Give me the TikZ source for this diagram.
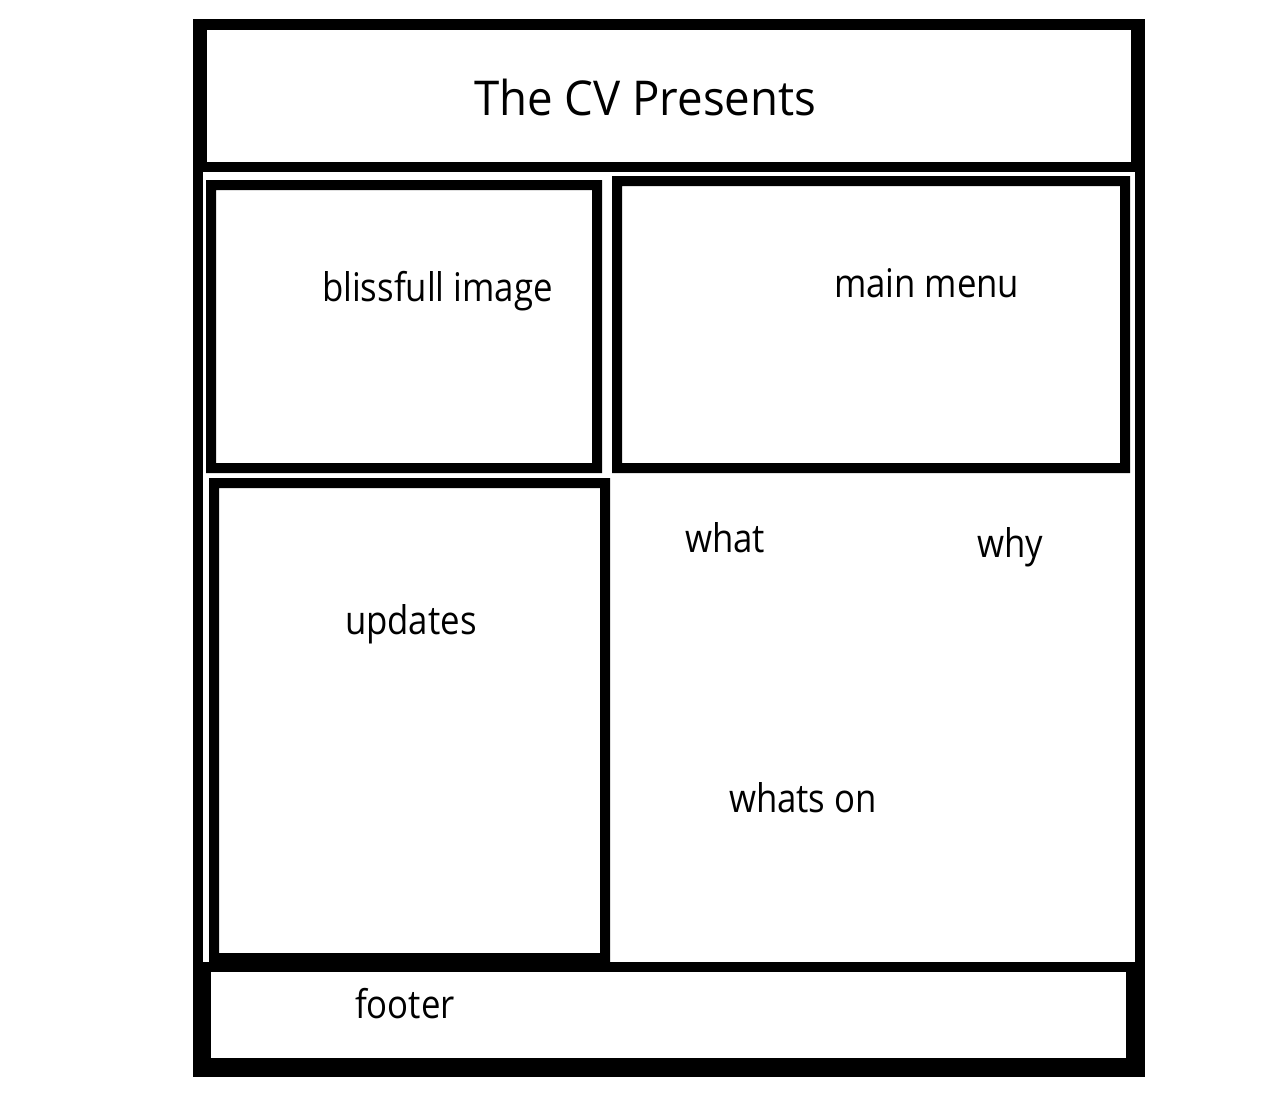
\documentclass[tikz,border=0pt]{standalone}
\usepackage{fontspec}
\setmainfont{Open Sans}[FakeStretch=0.88]
\newfontfamily\titlefont{Open Sans}[FakeStretch=0.95]
\begin{document}
\begin{tikzpicture}[x=1pt,y=-1pt,
  label/.style={anchor=base west,inner sep=0pt,outer sep=0pt,font=\fontsize{39.5}{48}\selectfont},
  titlelabel/.style={anchor=base west,inner sep=0pt,outer sep=0pt,font=\titlefont\fontsize{48}{56}\selectfont}]
\useasboundingbox[fill=white] (0,0) rectangle (1280,1104);

% outer frame, filled black, then the white interiors cut back in
\fill[black] (193,19) rectangle (1145,1077);
\fill[white] (207,30) rectangle (1131,162);   % header
\fill[white] (203,172) rectangle (1135,962);  % body
\fill[white] (211,972) rectangle (1126,1058); % footer

% inner panels
\fill[black,even odd rule] (206,180) rectangle (602,473) (216,190) rectangle (592,463); % image panel
\fill[black,even odd rule] (612,176) rectangle (1130,473) (622,186) rectangle (1120,463); % menu panel
\fill[black,even odd rule] (209,478) rectangle (610,962) (219,488) rectangle (600,953); % updates panel

% labels
\node[titlelabel] (title) at (474,115) {The CV Presents};
\node[label] (image) at (322,301) {blissfull image};
\node[label] (menu) at (834,297) {main menu};
\node[label] (updates) at (345,634) {updates};
\node[label] (what) at (685,552) {what};
\node[label] (why) at (977,557) {why};
\node[label] (whatson) at (729,812) {whats on};
\node[label] (footer) at (355,1018) {footer};
\end{tikzpicture}
\end{document}
